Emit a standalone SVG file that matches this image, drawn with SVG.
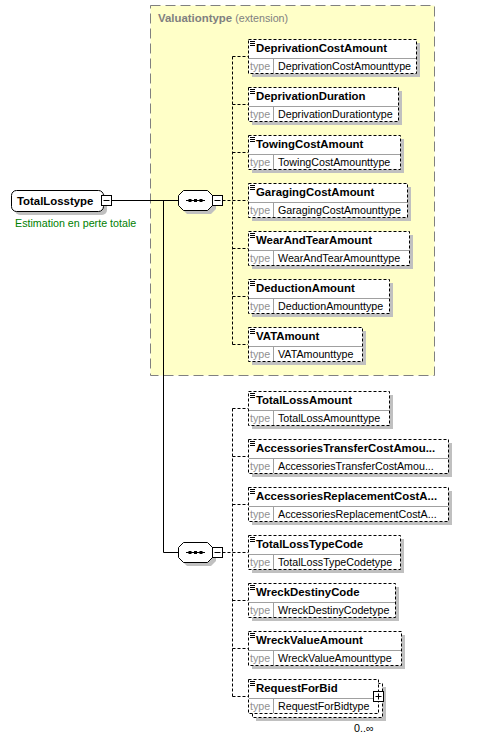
<svg xmlns="http://www.w3.org/2000/svg" width="477" height="739" viewBox="0 0 477 739">
<style>
.bg{fill:#fff}
.ext{fill:#ffffc8;stroke:#808080;stroke-dasharray:10,5}
.sh{fill:#c0c0c0}
.box{fill:#fff;stroke:#000;stroke-dasharray:3,2}
.sep{stroke:#a0a0a0;fill:none}
.ic{stroke:#000;fill:none}
.nm{font-family:"Liberation Sans",Arial,sans-serif;font-weight:bold;font-size:11.4px;fill:#000}
.tl{font-family:"Liberation Sans",Arial,sans-serif;font-size:10.7px;fill:#909090}
.tv{font-family:"Liberation Sans",Arial,sans-serif;font-size:10.7px;fill:#000}
.ttl{font-family:"Liberation Sans",Arial,sans-serif;font-size:11.4px;fill:#808080}
.doc{font-family:"Liberation Sans",Arial,sans-serif;font-size:10.7px;fill:#008000}
.solid{stroke:#000;fill:none}
.dash{stroke:#000;fill:none;stroke-dasharray:3,2}
.wb{fill:#fff;stroke:#000}
</style>
<rect class="bg" x="0" y="0" width="477" height="739"/>
<g id="Valuationtype">
<rect class="ext" x="150.5" y="5.5" width="284" height="370"/>
<text class="ttl" x="158" y="22"><tspan font-weight="bold">Valuationtype</tspan> <tspan font-size="10.7px">(extension)</tspan></text>
</g>
<g id="connectors">
<path class="solid" d="M111 200.5H178.5M163.5 200.5V552.5H178.5"/>
<path class="dash" d="M222.5 200.5H232.5M232.5 56.5V344.5M232.5 56.5H248M232.5 104.5H248M232.5 152.5H248M232.5 200.5H248M232.5 248.5H248M232.5 296.5H248M232.5 344.5H248"/>
<path class="dash" d="M222.5 552.5H232.5M232.5 408.5V696.5M232.5 408.5H248M232.5 456.5H248M232.5 504.5H248M232.5 552.5H248M232.5 600.5H248M232.5 648.5H248M232.5 696.5H248"/>
</g>
<g id="TotalLosstype">
<rect class="sh" x="15" y="194" width="92" height="21" rx="5"/>
<rect class="wb" x="11.5" y="190.5" width="92" height="21" rx="5"/>
<rect class="wb" x="101.5" y="195.5" width="10" height="10"/>
<path class="ic" d="M103.5 200.5H109.5"/>
<text class="nm" x="17" y="204.5">TotalLosstype</text>
<text class="doc" x="15" y="227">Estimation en perte totale</text>
</g>
<g id="sequence1">
<polygon class="sh" points="187,194 211,194 216,199 216,209 211,214 187,214 182,209 182,199"/>
<polygon class="wb" points="183.5,190.5 207.5,190.5 212.5,195.5 212.5,205.5 207.5,210.5 183.5,210.5 178.5,205.5 178.5,195.5"/>
<path class="ic" d="M186 200.5H205"/>
<rect x="188.5" y="199" width="3" height="3"/><rect x="194" y="199" width="3" height="3"/><rect x="199.5" y="199" width="3" height="3"/>
<rect class="wb" x="212.5" y="195.5" width="10" height="10"/>
<path class="ic" d="M214.5 200.5H220.5"/>
</g>
<g id="sequence2">
<polygon class="sh" points="187,546 211,546 216,551 216,561 211,566 187,566 182,561 182,551"/>
<polygon class="wb" points="183.5,542.5 207.5,542.5 212.5,547.5 212.5,557.5 207.5,562.5 183.5,562.5 178.5,557.5 178.5,547.5"/>
<path class="ic" d="M186 552.5H205"/>
<rect x="188.5" y="551" width="3" height="3"/><rect x="194" y="551" width="3" height="3"/><rect x="199.5" y="551" width="3" height="3"/>
<rect class="wb" x="212.5" y="547.5" width="10" height="10"/>
<path class="ic" d="M214.5 552.5H220.5"/>
</g>
<g id="DeprivationCostAmount">
<rect class="sh" x="252" y="43" width="168" height="34"/><rect class="box" x="248.5" y="39.5" width="168" height="34"/>
<path class="sep" d="M249 58.5H416M273.5 59V73"/><path class="ic" d="M250 41.5h5M250 43.5h5M250 45.5h5"/>
<text class="nm" x="256" y="52">DeprivationCostAmount</text><text class="tl" x="250" y="69.5">type</text><text class="tv" x="278" y="69.5">DeprivationCostAmounttype</text>
</g>
<g id="DeprivationDuration">
<rect class="sh" x="252" y="91" width="150" height="34"/><rect class="box" x="248.5" y="87.5" width="150" height="34"/>
<path class="sep" d="M249 106.5H398M273.5 107V121"/><path class="ic" d="M250 89.5h5M250 91.5h5M250 93.5h5"/>
<text class="nm" x="256" y="100">DeprivationDuration</text><text class="tl" x="250" y="117.5">type</text><text class="tv" x="278" y="117.5">DeprivationDurationtype</text>
</g>
<g id="TowingCostAmount">
<rect class="sh" x="252" y="139" width="152" height="34"/><rect class="box" x="248.5" y="135.5" width="152" height="34"/>
<path class="sep" d="M249 154.5H400M273.5 155V169"/><path class="ic" d="M250 137.5h5M250 139.5h5M250 141.5h5"/>
<text class="nm" x="256" y="148">TowingCostAmount</text><text class="tl" x="250" y="165.5">type</text><text class="tv" x="278" y="165.5">TowingCostAmounttype</text>
</g>
<g id="GaragingCostAmount">
<rect class="sh" x="252" y="187" width="159" height="34"/><rect class="box" x="248.5" y="183.5" width="159" height="34"/>
<path class="sep" d="M249 202.5H407M273.5 203V217"/><path class="ic" d="M250 185.5h5M250 187.5h5M250 189.5h5"/>
<text class="nm" x="256" y="196">GaragingCostAmount</text><text class="tl" x="250" y="213.5">type</text><text class="tv" x="278" y="213.5">GaragingCostAmounttype</text>
</g>
<g id="WearAndTearAmount">
<rect class="sh" x="252" y="235" width="161" height="34"/><rect class="box" x="248.5" y="231.5" width="161" height="34"/>
<path class="sep" d="M249 250.5H409M273.5 251V265"/><path class="ic" d="M250 233.5h5M250 235.5h5M250 237.5h5"/>
<text class="nm" x="256" y="244">WearAndTearAmount</text><text class="tl" x="250" y="261.5">type</text><text class="tv" x="278" y="261.5">WearAndTearAmounttype</text>
</g>
<g id="DeductionAmount">
<rect class="sh" x="252" y="283" width="141" height="34"/><rect class="box" x="248.5" y="279.5" width="141" height="34"/>
<path class="sep" d="M249 298.5H389M273.5 299V313"/><path class="ic" d="M250 281.5h5M250 283.5h5M250 285.5h5"/>
<text class="nm" x="256" y="292">DeductionAmount</text><text class="tl" x="250" y="309.5">type</text><text class="tv" x="278" y="309.5">DeductionAmounttype</text>
</g>
<g id="VATAmount">
<rect class="sh" x="252" y="331" width="114" height="34"/><rect class="box" x="248.5" y="327.5" width="114" height="34"/>
<path class="sep" d="M249 346.5H362M273.5 347V361"/><path class="ic" d="M250 329.5h5M250 331.5h5M250 333.5h5"/>
<text class="nm" x="256" y="340">VATAmount</text><text class="tl" x="250" y="357.5">type</text><text class="tv" x="278" y="357.5">VATAmounttype</text>
</g>
<g id="TotalLossAmount">
<rect class="sh" x="252" y="395" width="141" height="34"/><rect class="box" x="248.5" y="391.5" width="141" height="34"/>
<path class="sep" d="M249 410.5H389M273.5 411V425"/><path class="ic" d="M250 393.5h5M250 395.5h5M250 397.5h5"/>
<text class="nm" x="256" y="404">TotalLossAmount</text><text class="tl" x="250" y="421.5">type</text><text class="tv" x="278" y="421.5">TotalLossAmounttype</text>
</g>
<g id="AccessoriesTransferCostAmount">
<rect class="sh" x="252" y="443" width="200" height="34"/><rect class="box" x="248.5" y="439.5" width="200" height="34"/>
<path class="sep" d="M249 458.5H448M273.5 459V473"/><path class="ic" d="M250 441.5h5M250 443.5h5M250 445.5h5"/>
<text class="nm" x="256" y="452">AccessoriesTransferCostAmou...</text><text class="tl" x="250" y="469.5">type</text><text class="tv" x="278" y="469.5">AccessoriesTransferCostAmou...</text>
</g>
<g id="AccessoriesReplacementCostAmount">
<rect class="sh" x="252" y="491" width="200" height="34"/><rect class="box" x="248.5" y="487.5" width="200" height="34"/>
<path class="sep" d="M249 506.5H448M273.5 507V521"/><path class="ic" d="M250 489.5h5M250 491.5h5M250 493.5h5"/>
<text class="nm" x="256" y="500">AccessoriesReplacementCostA...</text><text class="tl" x="250" y="517.5">type</text><text class="tv" x="278" y="517.5">AccessoriesReplacementCostA...</text>
</g>
<g id="TotalLossTypeCode">
<rect class="sh" x="252" y="539" width="152" height="34"/><rect class="box" x="248.5" y="535.5" width="152" height="34"/>
<path class="sep" d="M249 554.5H400M273.5 555V569"/><path class="ic" d="M250 537.5h5M250 539.5h5M250 541.5h5"/>
<text class="nm" x="256" y="548">TotalLossTypeCode</text><text class="tl" x="250" y="565.5">type</text><text class="tv" x="278" y="565.5">TotalLossTypeCodetype</text>
</g>
<g id="WreckDestinyCode">
<rect class="sh" x="252" y="587" width="147" height="34"/><rect class="box" x="248.5" y="583.5" width="147" height="34"/>
<path class="sep" d="M249 602.5H395M273.5 603V617"/><path class="ic" d="M250 585.5h5M250 587.5h5M250 589.5h5"/>
<text class="nm" x="256" y="596">WreckDestinyCode</text><text class="tl" x="250" y="613.5">type</text><text class="tv" x="278" y="613.5">WreckDestinyCodetype</text>
</g>
<g id="WreckValueAmount">
<rect class="sh" x="252" y="635" width="153" height="34"/><rect class="box" x="248.5" y="631.5" width="153" height="34"/>
<path class="sep" d="M249 650.5H401M273.5 651V665"/><path class="ic" d="M250 633.5h5M250 635.5h5M250 637.5h5"/>
<text class="nm" x="256" y="644">WreckValueAmount</text><text class="tl" x="250" y="661.5">type</text><text class="tv" x="278" y="661.5">WreckValueAmounttype</text>
</g>
<g id="RequestForBid">
<rect class="sh" x="256" y="687" width="130" height="34"/>
<rect class="box" x="252.5" y="683.5" width="130" height="34"/>
<rect class="box" x="248.5" y="679.5" width="130" height="34"/>
<path class="sep" d="M249 698.5H378M273.5 699V713"/><path class="ic" d="M250 681.5h5M250 683.5h5M250 685.5h5"/>
<text class="nm" x="256" y="692">RequestForBid</text><text class="tl" x="250" y="709.5">type</text><text class="tv" x="278" y="709.5">RequestForBidtype</text>
<rect class="wb" x="373.5" y="691.5" width="10" height="10"/>
<path class="ic" d="M375.5 696.5H381.5M378.5 693.5V699.5"/>
<text class="tv" x="354" y="732">0..∞</text>
</g>
</svg>
